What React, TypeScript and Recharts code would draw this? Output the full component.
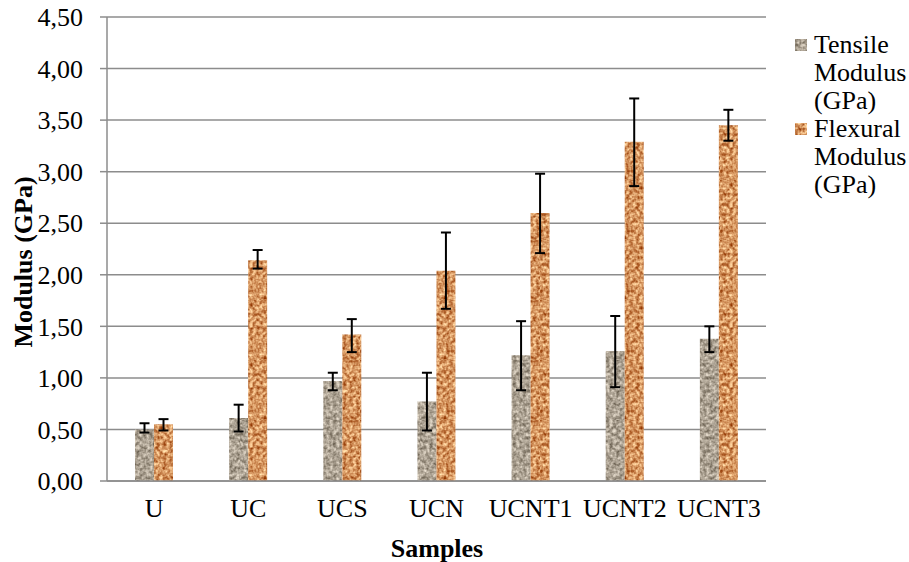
import { BarChart, Bar, XAxis, YAxis, CartesianGrid, ErrorBar } from 'recharts';

const samples = ['U', 'UC', 'UCS', 'UCN', 'UCNT1', 'UCNT2', 'UCNT3'];

const tensile = [0.5, 0.61, 0.97, 0.77, 1.22, 1.26, 1.38];
const tensileLow = [0.47, 0.48, 0.88, 0.49, 0.88, 0.91, 1.25];
const tensileHigh = [0.56, 0.74, 1.05, 1.05, 1.55, 1.6, 1.5];

const flexural = [0.55, 2.14, 1.42, 2.04, 2.6, 3.29, 3.45];
const flexuralLow = [0.49, 2.06, 1.25, 1.67, 2.21, 2.86, 3.3];
const flexuralHigh = [0.6, 2.24, 1.57, 2.41, 2.98, 3.71, 3.6];

const yTicks = [0, 0.5, 1, 1.5, 2, 2.5, 3, 3.5, 4, 4.5];

const data = samples.map((s, i) => ({
  name: s,
  tensile: tensile[i],
  tensileErr: [tensile[i] - tensileLow[i], tensileHigh[i] - tensile[i]],
  flexural: flexural[i],
  flexuralErr: [flexural[i] - flexuralLow[i], flexuralHigh[i] - flexural[i]],
}));

const FONT = '"Liberation Serif", "Times New Roman", serif';
const GRID = '#8c8c8c';

const fmt = (v: number) => v.toFixed(2).replace('.', ',');

const legendItems = [
  { label: ['Tensile', 'Modulus', '(GPa)'], fill: 'url(#granite)' },
  { label: ['Flexural', 'Modulus', '(GPa)'], fill: 'url(#sand)' },
];

const YLabel = () => (
  <text
    x={23}
    y={262}
    transform="rotate(-90 23 262)"
    textAnchor="middle"
    dominantBaseline="central"
    fontFamily={FONT}
    fontSize={26}
    fontWeight="bold"
    fill="#000"
  >
    Modulus (GPa)
  </text>
);

const XLabel = () => (
  <text
    x={437}
    y={548}
    textAnchor="middle"
    dominantBaseline="central"
    fontFamily={FONT}
    fontSize={26}
    fontWeight="bold"
    fill="#000"
  >
    Samples
  </text>
);

export default function App() {
  return (
    <div style={{ position: 'absolute', left: 0, top: 0, width: 909, height: 562, background: '#fff' }}>
      <BarChart
        width={909}
        height={562}
        data={data}
        margin={{ top: 17, right: 143, bottom: 51, left: 0 }}
        barCategoryGap="29%"
        barGap={0}
      >
        <defs>
          <filter
            id="noiseG"
            filterUnits="userSpaceOnUse"
            x="0"
            y="0"
            width="60"
            height="60"
            colorInterpolationFilters="sRGB"
          >
            <feTurbulence type="fractalNoise" baseFrequency="0.3" numOctaves="2" seed="4" />
            <feColorMatrix
              type="matrix"
              values="0.75 0 0 0 0.3  0.75 0 0 0 0.26  0.75 0 0 0 0.2  0 0 0 0 1"
            />
          </filter>
          <filter
            id="noiseS"
            filterUnits="userSpaceOnUse"
            x="0"
            y="0"
            width="60"
            height="60"
            colorInterpolationFilters="sRGB"
          >
            <feTurbulence type="fractalNoise" baseFrequency="0.3" numOctaves="2" seed="9" />
            <feColorMatrix
              type="matrix"
              values="0.7 0 0 0 0.48  1.0 0 0 0 0.08  1.0 0 0 0 -0.13  0 0 0 0 1"
            />
          </filter>
          <pattern id="granite" width="60" height="60" patternUnits="userSpaceOnUse">
            <rect width="60" height="60" fill="#ab9f92" />
            <rect width="60" height="60" filter="url(#noiseG)" />
          </pattern>
          <pattern id="sand" width="60" height="60" patternUnits="userSpaceOnUse">
            <rect width="60" height="60" fill="#d28e57" />
            <rect width="60" height="60" filter="url(#noiseS)" />
          </pattern>
        </defs>
        <CartesianGrid vertical={false} stroke={GRID} strokeWidth={1.5} />
        <XAxis
          dataKey="name"
          tickLine={false}
          axisLine={{ stroke: GRID, strokeWidth: 1.5 }}
          tick={{ fontFamily: FONT, fontSize: 26, fill: '#000' }}
          tickMargin={12}
          interval={0}
          label={<XLabel />}
        />
        <YAxis
          width={107}
          domain={[0, 4.5]}
          ticks={yTicks}
          tickFormatter={fmt}
          tickSize={7}
          tickMargin={17}
          tickLine={{ stroke: GRID, strokeWidth: 1.5 }}
          axisLine={{ stroke: GRID, strokeWidth: 1.5 }}
          tick={{ fontFamily: FONT, fontSize: 26, fill: '#000' }}
          interval={0}
          label={<YLabel />}
        />
        <Bar dataKey="tensile" name="Tensile Modulus (GPa)" fill="url(#granite)" barSize={19} isAnimationActive={false}>
          <ErrorBar dataKey="tensileErr" width={5} stroke="#000" strokeWidth={2} />
        </Bar>
        <Bar dataKey="flexural" name="Flexural Modulus (GPa)" fill="url(#sand)" barSize={19} isAnimationActive={false}>
          <ErrorBar dataKey="flexuralErr" width={5} stroke="#000" strokeWidth={2} />
        </Bar>
      </BarChart>
      <div
        style={{
          position: 'absolute',
          left: 795,
          top: 31,
          fontFamily: FONT,
          fontSize: 26,
          lineHeight: '28px',
          color: '#000',
        }}
      >
        {legendItems.map((it) => (
          <div key={it.label[0]} style={{ display: 'flex', alignItems: 'flex-start' }}>
            <svg width={19} height={28} style={{ flex: 'none' }}>
              <rect x={0} y={8} width={12} height={12} fill={it.fill} />
            </svg>
            <div>
              {it.label.map((l) => (
                <div key={l}>{l}</div>
              ))}
            </div>
          </div>
        ))}
      </div>
    </div>
  );
}
